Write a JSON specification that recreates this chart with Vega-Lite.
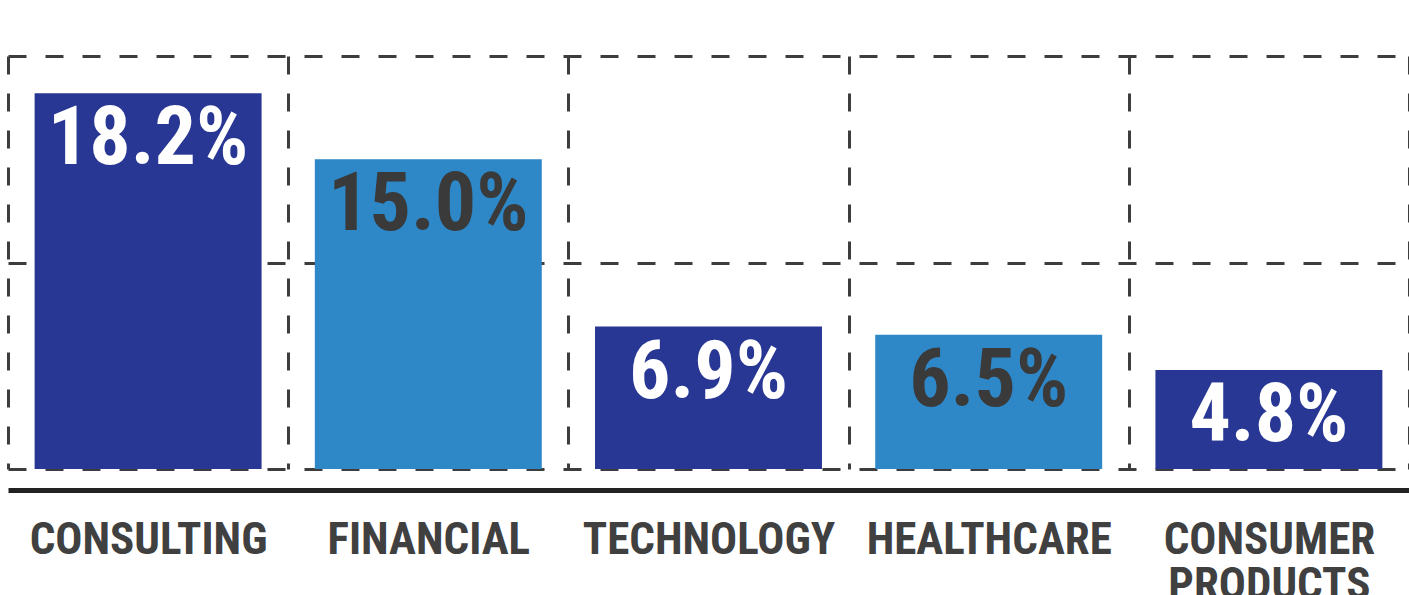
{
  "$schema": "https://vega.github.io/schema/vega-lite/v6.json",
  "width": 1401,
  "height": 413,
  "autosize": {"type": "none"},
  "padding": {"left": 8, "top": 56, "right": 0, "bottom": 126},
  "background": "white",
  "config": {"view": {"stroke": null}},
  "data": {
    "values": [
      {"sector": "CONSULTING", "value": 18.2, "label": "18.2%", "shade": "dark"},
      {"sector": "FINANCIAL", "value": 15.0, "label": "15.0%", "shade": "light"},
      {"sector": "TECHNOLOGY", "value": 6.9, "label": "6.9%", "shade": "dark"},
      {"sector": "HEALTHCARE", "value": 6.5, "label": "6.5%", "shade": "light"},
      {"sector": "CONSUMER PRODUCTS", "value": 4.8, "label": "4.8%", "shade": "dark"}
    ]
  },
  "encoding": {
    "x": {
      "field": "sector",
      "type": "nominal",
      "sort": null,
      "scale": {"paddingInner": 0, "paddingOuter": 0},
      "axis": {
        "title": null,
        "orient": "bottom",
        "offset": 21,
        "zindex": 0,
        "domainColor": "#222222",
        "domainWidth": 5,
        "ticks": false,
        "labelAngle": 0,
        "labelFont": "Roboto Condensed, Roboto, sans-serif",
        "labelFontWeight": "bold",
        "labelFontSize": 45,
        "labelColor": "#404040",
        "labelPadding": 27,
        "labelLineHeight": 45,
        "labelBaseline": "top",
        "labelLimit": 0,
        "labelExpr": "split(datum.label, ' ')",
        "grid": true,
        "tickBand": "extent",
        "gridColor": "#3d3d3d",
        "gridWidth": 3,
        "gridDash": [18, 19]
      }
    },
    "y": {
      "field": "value",
      "type": "quantitative",
      "scale": {"domain": [0, 20], "nice": false},
      "axis": {
        "title": null,
        "zindex": 0,
        "values": [0, 10, 20],
        "labels": false,
        "ticks": false,
        "domain": false,
        "grid": true,
        "gridColor": "#3d3d3d",
        "gridWidth": 3,
        "gridDash": [18, 19]
      }
    }
  },
  "layer": [
    {
      "mark": {"type": "bar", "width": {"band": 0.81}},
      "encoding": {
        "color": {
          "field": "shade",
          "type": "nominal",
          "scale": {"domain": ["dark", "light"], "range": ["#283793", "#2e87c7"]},
          "legend": null
        }
      }
    },
    {
      "mark": {
        "type": "text",
        "baseline": "alphabetic",
        "dy": 71,
        "font": "Roboto Condensed, Roboto, sans-serif",
        "fontWeight": "bold",
        "fontSize": 82
      },
      "encoding": {
        "text": {"field": "label"},
        "color": {
          "field": "shade",
          "type": "nominal",
          "scale": {"domain": ["dark", "light"], "range": ["#ffffff", "#3a3a3a"]},
          "legend": null
        }
      }
    }
  ],
  "resolve": {"scale": {"color": "independent"}}
}
